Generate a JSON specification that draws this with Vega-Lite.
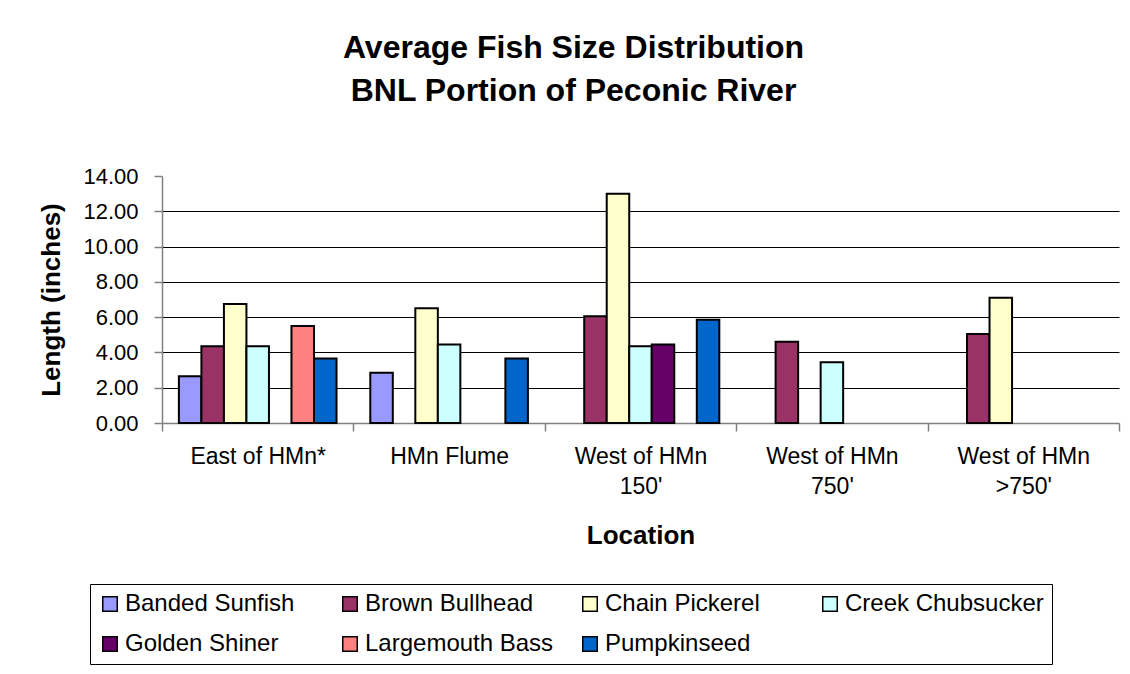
{
  "$schema": "https://vega.github.io/schema/vega-lite/v6.json",
  "autosize": {"type": "none"},
  "padding": {"left": 162, "top": 176, "right": 11, "bottom": 251},
  "width": 957,
  "height": 247,
  "background": "white",
  "title": {
    "text": ["Average Fish Size Distribution", "BNL Portion of Peconic River"],
    "font": "Liberation Sans",
    "fontSize": 32,
    "fontWeight": "bold",
    "color": "black",
    "anchor": "middle",
    "dx": -67,
    "offset": 57,
    "lineHeight": 43
  },
  "data": {
    "values": [
      {"location": "East of HMn*", "species": "Banded Sunfish", "length": 2.65},
      {"location": "East of HMn*", "species": "Brown Bullhead", "length": 4.35},
      {"location": "East of HMn*", "species": "Chain Pickerel", "length": 6.75},
      {"location": "East of HMn*", "species": "Creek Chubsucker", "length": 4.35},
      {"location": "East of HMn*", "species": "Largemouth Bass", "length": 5.5},
      {"location": "East of HMn*", "species": "Pumpkinseed", "length": 3.65},
      {"location": "HMn Flume", "species": "Banded Sunfish", "length": 2.85},
      {"location": "HMn Flume", "species": "Chain Pickerel", "length": 6.5},
      {"location": "HMn Flume", "species": "Creek Chubsucker", "length": 4.45},
      {"location": "HMn Flume", "species": "Pumpkinseed", "length": 3.65},
      {"location": "West of HMn 150'", "species": "Brown Bullhead", "length": 6.05},
      {"location": "West of HMn 150'", "species": "Chain Pickerel", "length": 13.0},
      {"location": "West of HMn 150'", "species": "Creek Chubsucker", "length": 4.35},
      {"location": "West of HMn 150'", "species": "Golden Shiner", "length": 4.45},
      {"location": "West of HMn 150'", "species": "Pumpkinseed", "length": 5.85},
      {"location": "West of HMn 750'", "species": "Brown Bullhead", "length": 4.6},
      {"location": "West of HMn 750'", "species": "Creek Chubsucker", "length": 3.45},
      {"location": "West of HMn >750'", "species": "Brown Bullhead", "length": 5.05},
      {"location": "West of HMn >750'", "species": "Chain Pickerel", "length": 7.1}
    ]
  },
  "mark": {"type": "bar", "stroke": "black", "strokeWidth": 2},
  "encoding": {
    "x": {
      "field": "location",
      "type": "nominal",
      "sort": ["East of HMn*", "HMn Flume", "West of HMn 150'", "West of HMn 750'", "West of HMn >750'"],
      "scale": {"paddingInner": 0, "paddingOuter": 0},
      "title": "Location",
      "axis": {
        "labelAngle": 0,
        "labelExpr": "indexof(datum.label, 'West of HMn ') == 0 ? ['West of HMn', substring(datum.label, 12)] : datum.label",
        "labelFont": "Liberation Sans",
        "labelFontSize": 23,
        "labelColor": "black",
        "labelLineHeight": 30,
        "labelPadding": 14,
        "labelBaseline": "top",
        "domainColor": "#808080",
        "domainWidth": 1.5,
        "tickColor": "#808080",
        "tickWidth": 1.5,
        "tickSize": 8,
        "tickBand": "extent",
        "titleFont": "Liberation Sans",
        "titleFontSize": 26,
        "titleFontWeight": "bold",
        "titleColor": "black",
        "titlePadding": 24
      }
    },
    "xOffset": {
      "field": "species",
      "type": "nominal",
      "sort": ["Banded Sunfish", "Brown Bullhead", "Chain Pickerel", "Creek Chubsucker", "Golden Shiner", "Largemouth Bass", "Pumpkinseed"],
      "scale": {"domain": ["Banded Sunfish", "Brown Bullhead", "Chain Pickerel", "Creek Chubsucker", "Golden Shiner", "Largemouth Bass", "Pumpkinseed"], "paddingInner": 0, "paddingOuter": 0.75}
    },
    "y": {
      "field": "length",
      "type": "quantitative",
      "scale": {"domain": [0, 14], "nice": false},
      "title": "Length (inches)",
      "axis": {
        "values": [0, 2, 4, 6, 8, 10, 12, 14],
        "format": ".2f",
        "labelFont": "Liberation Sans",
        "labelFontSize": 22,
        "labelColor": "black",
        "labelPadding": 16,
        "domainColor": "#808080",
        "domainWidth": 1.5,
        "tickColor": "#808080",
        "tickWidth": 1.5,
        "tickSize": 8,
        "grid": true,
        "gridColor": "black",
        "gridWidth": 1,
        "gridOpacity": {"condition": {"test": "datum.value >= 14 || datum.value <= 0", "value": 0}, "value": 1},
        "titleFont": "Liberation Sans",
        "titleFontSize": 26,
        "titleFontWeight": "bold",
        "titleColor": "black",
        "titlePadding": 18
      }
    },
    "color": {
      "field": "species",
      "type": "nominal",
      "scale": {
        "domain": ["Banded Sunfish", "Brown Bullhead", "Chain Pickerel", "Creek Chubsucker", "Golden Shiner", "Largemouth Bass", "Pumpkinseed"],
        "range": ["#9999FF", "#993366", "#FFFFCC", "#CCFFFF", "#660066", "#FF8080", "#0066CC"]
      },
      "legend": {
        "title": null,
        "orient": "none",
        "legendX": -72,
        "legendY": 408,
        "direction": "horizontal",
        "columns": 4,
        "gridAlign": "all",
        "strokeColor": "black",
        "fillColor": "white",
        "padding": 8,
        "rowPadding": 16,
        "columnPadding": 14,
        "symbolType": "square",
        "symbolSize": 210,
        "symbolStrokeColor": "black",
        "symbolStrokeWidth": 1.5,
        "symbolOpacity": 1,
        "labelFont": "Liberation Sans",
        "labelFontSize": 24,
        "labelColor": "black",
        "labelOffset": 3,
        "labelLimit": 0
      }
    }
  },
  "config": {"view": {"stroke": null}}
}
